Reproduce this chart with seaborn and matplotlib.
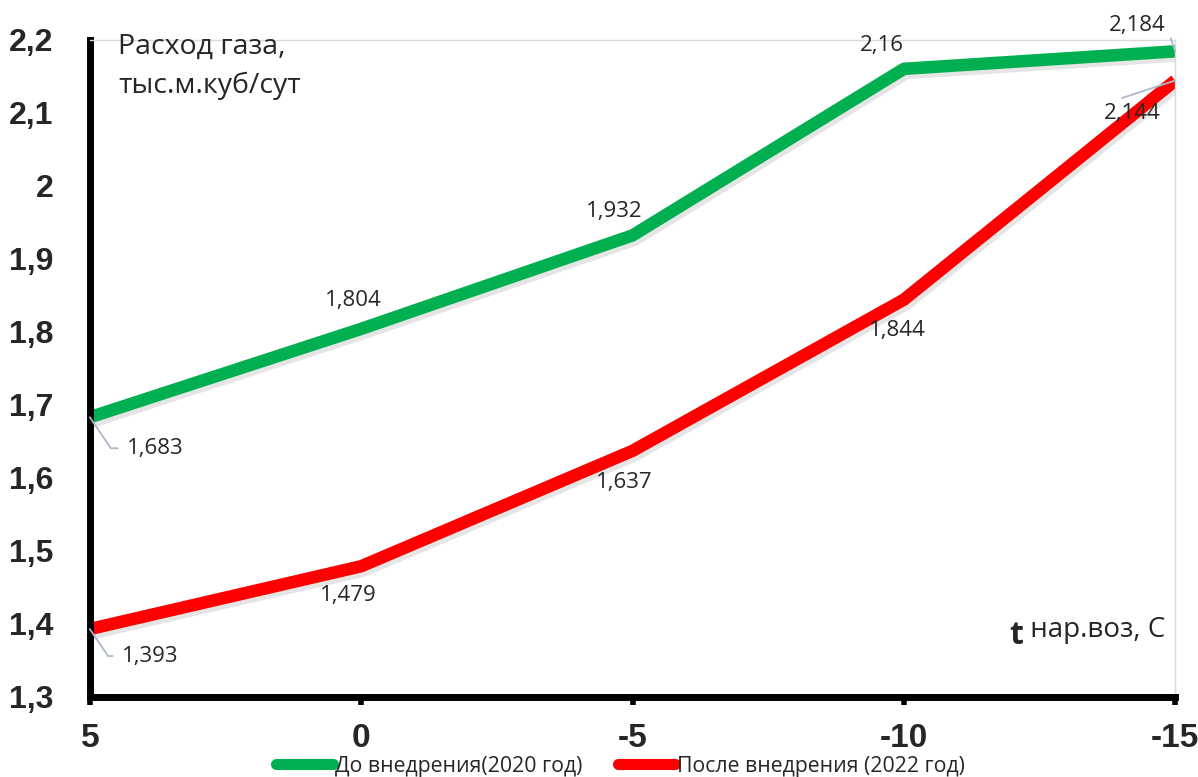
import numpy as np
import pandas as pd
import matplotlib.pyplot as plt
import matplotlib.patheffects as pe
from matplotlib.lines import Line2D
import seaborn as sns

# data
temps = [5, 0, -5, -10, -15]
before_2020 = [1.683, 1.804, 1.932, 2.16, 2.184]
after_2022 = [1.393, 1.479, 1.637, 1.844, 2.144]
series_names = ['До внедрения(2020 год)', 'После внедрения (2022 год)']
y_ticks = [1.3, 1.4, 1.5, 1.6, 1.7, 1.8, 1.9, 2.0, 2.1, 2.2]

df = pd.DataFrame({
    'temp': temps * 2,
    'value': before_2020 + after_2022,
    'series': [series_names[0]] * 5 + [series_names[1]] * 5,
})

sns.set_style('white')
plt.rcParams['font.family'] = ['Open Sans', 'DejaVu Sans']

fig = plt.figure(figsize=(11.98, 7.77), dpi=100)
ax = fig.add_axes([0.075, 0.103, 0.906, 0.846])

colors = {series_names[0]: '#00b050', series_names[1]: '#ff0000'}
sns.lineplot(data=df, x='temp', y='value', hue='series', palette=colors,
             linewidth=9, legend=False, ax=ax, sort=False)
for line in ax.lines:
    line.set_solid_capstyle('butt')
    line.set_path_effects([pe.SimpleLineShadow(offset=(2, -3), alpha=0.2, shadow_color='gray'),
                           pe.Normal()])

ax.set_xlim(5, -15)
ax.set_ylim(1.3, 2.2)
ax.set_xticks(temps)
ax.set_xticklabels([str(t) for t in temps])
ax.set_yticks(y_ticks)
ax.set_yticklabels([f'{v:.1f}'.replace('.', ',').replace(',0', '') for v in y_ticks])
ax.set_xlabel('')
ax.set_ylabel('')

tick_font = ['Liberation Sans Narrow', 'Liberation Sans', 'DejaVu Sans']
for lab in ax.get_yticklabels():
    lab.set_fontfamily(tick_font)
    lab.set_fontweight('bold')
    lab.set_fontsize(23)
for lab in ax.get_xticklabels():
    lab.set_fontfamily(tick_font)
    lab.set_fontweight('bold')
    lab.set_fontsize(24)
ax.tick_params(axis='y', length=0, pad=26)
ax.tick_params(axis='x', length=6, width=4, color='black', pad=13, direction='out', bottom=True)

ax.spines['left'].set_linewidth(5)
ax.spines['bottom'].set_linewidth(5)
ax.spines['left'].set_color('black')
ax.spines['bottom'].set_color('black')
for s in ['top', 'right']:
    ax.spines[s].set_visible(True)
    ax.spines[s].set_color('#d9d9d9')
    ax.spines[s].set_linewidth(1)

# value labels: (dx, dy) in pixels, leader style
green_off = [(65, -31, 'bl'), (-8, 28, None), (-18, 24, None), (-22, 23, None), (-38, 26, 'tr')]
red_off = [(60, -27, 'bl'), (-13, -29, None), (-8, -32, None), (-7, -31, None), (-43, -33, 'br')]

leader_styles = {
    'bl': dict(relpos=(0.0, 0.5), connectionstyle='angle,angleA=0,angleB=-56,rad=0'),
    'tr': dict(relpos=(1.0, 0.5), connectionstyle='angle,angleA=0,angleB=109,rad=0'),
    'br': dict(relpos=(0.05, 1.0), connectionstyle='arc3,rad=0'),
}


def label_points(vals, offs):
    for t, v, (dx, dy, lead) in zip(temps, vals, offs):
        txt = f'{v:g}'.replace('.', ',')
        if lead:
            ax.annotate(txt, xy=(t, v), xytext=(dx, dy), textcoords='offset pixels',
                        ha='center', va='center', fontsize=16,
                        arrowprops=dict(arrowstyle='-', color='#adb9ca', lw=1.3,
                                        shrinkA=4, shrinkB=0, **leader_styles[lead]),
                        annotation_clip=False)
        else:
            ax.annotate(txt, xy=(t, v), xytext=(dx, dy), textcoords='offset pixels',
                        ha='center', va='center', fontsize=16, annotation_clip=False)


label_points(before_2020, green_off)
label_points(after_2022, red_off)

fig.text(118 / 1198, 1 - 33 / 777, 'Расход газа,\nтыс.м.куб/сут', fontsize=20.5,
         va='top', ha='left', linespacing=1.5)
unit_txt = fig.text(1165 / 1198, 1 - 637 / 777, ' нар.воз, С', fontsize=20,
                    va='baseline', ha='right')
ax.annotate('t', xy=(0, 0), xycoords=unit_txt, ha='right', va='baseline',
            fontsize=23, fontweight='bold')

handles = [Line2D([0], [0], color=colors[n], lw=8, solid_capstyle='round') for n in series_names]
fig.legend(handles, series_names, loc='center', bbox_to_anchor=(0.518, 0.014), ncol=2,
           frameon=False, fontsize=15.3, handlelength=2.7, handletextpad=0.1,
           columnspacing=1.65, borderpad=0)

fig.savefig('out.png', dpi=100)
